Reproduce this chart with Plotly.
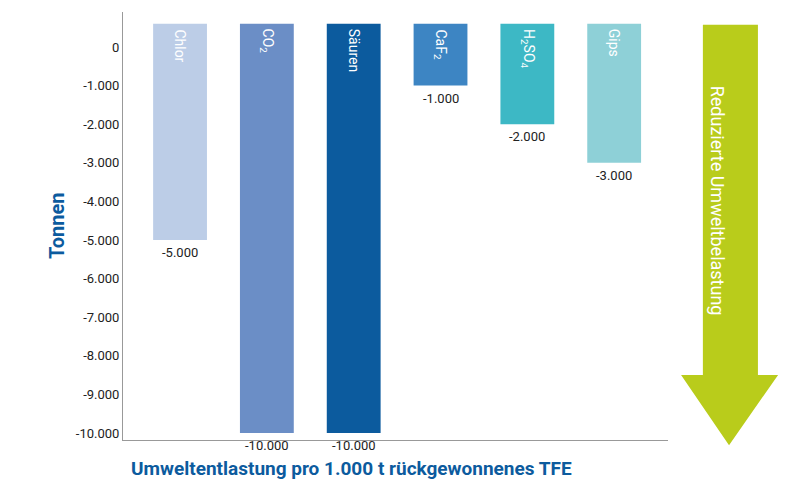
import plotly.graph_objects as go

categories = ["Chlor", "CO<sub>2</sub>", "Säuren", "CaF<sub>2</sub>", "H<sub>2</sub>SO<sub>4</sub>", "Gips"]
values = [-5000, -10000, -10000, -1000, -2000, -3000]
value_labels = ["-5.000", "-10.000", "-10.000", "-1.000", "-2.000", "-3.000"]
colors = ["#BCCDE7", "#6B8EC6", "#0C5B9E", "#3D85C3", "#3DB8C5", "#8ED0D7"]
tick_vals = [0, -1000, -2000, -3000, -4000, -5000, -6000, -7000, -8000, -9000, -10000]
tick_text = ["0", "-1.000", "-2.000", "-3.000", "-4.000", "-5.000", "-6.000", "-7.000", "-8.000", "-9.000", "-10.000"]
bar_top = 600

FONT = "Liberation Sans Narrow, Roboto, Arial"
xs = list(range(len(categories)))
fig = go.Figure(go.Bar(x=xs, y=[v - bar_top for v in values], base=bar_top,
                       marker=dict(color=colors, line=dict(width=0)), width=0.62))

ann = []
for i, (c, v, lab) in enumerate(zip(categories, values, value_labels)):
    ann.append(dict(x=i, y=bar_top - 80, text=c, textangle=90, showarrow=False, yanchor="top",
                    font=dict(color="white", size=14, family=FONT)))
    ann.append(dict(x=i, y=v - 80, text=lab, showarrow=False, yanchor="top",
                    font=dict(color="#222", size=13, family=FONT)))
ann.append(dict(xref="paper", yref="paper", x=1.114, y=0.56, text="Reduzierte Umweltbelastung",
                textangle=90, showarrow=False, font=dict(color="white", size=18, family=FONT)))
ann.append(dict(xref="paper", yref="paper", x=-0.147, y=0.5, text="<b>Tonnen</b>", textangle=-90,
                showarrow=False, font=dict(color="#0C5B9E", size=20, family=FONT)))
ann.append(dict(xref="paper", yref="paper", x=0.42, y=-0.035, yanchor="top",
                text="<b>Umweltentlastung pro 1.000 t rückgewonnenes TFE</b>", showarrow=False,
                font=dict(color="#0C5B9E", size=19, family=FONT)))

arrow = "M 1.064 0.970 L 1.165 0.970 L 1.165 0.152 L 1.202 0.152 L 1.112 -0.012 L 1.024 0.152 L 1.064 0.152 Z"
fig.update_layout(
    width=800, height=503, margin=dict(l=115, r=140, t=4, b=71),
    paper_bgcolor="white", plot_bgcolor="white", showlegend=False,
    annotations=ann,
    shapes=[dict(type="path", xref="paper", yref="paper", path=arrow, fillcolor="#B9CC1B", line=dict(width=0))],
    xaxis=dict(range=[-0.657, 5.62], showticklabels=False, showgrid=False, zeroline=False,
               showline=True, linecolor="#999", linewidth=1),
    yaxis=dict(range=[-10180, 907], tickvals=tick_vals, ticktext=tick_text, showgrid=False,
               zeroline=False, showline=True, linecolor="#999", linewidth=1, ticks="",
               tickfont=dict(size=13, color="#222", family=FONT)),
)
fig.write_html("out.html")
